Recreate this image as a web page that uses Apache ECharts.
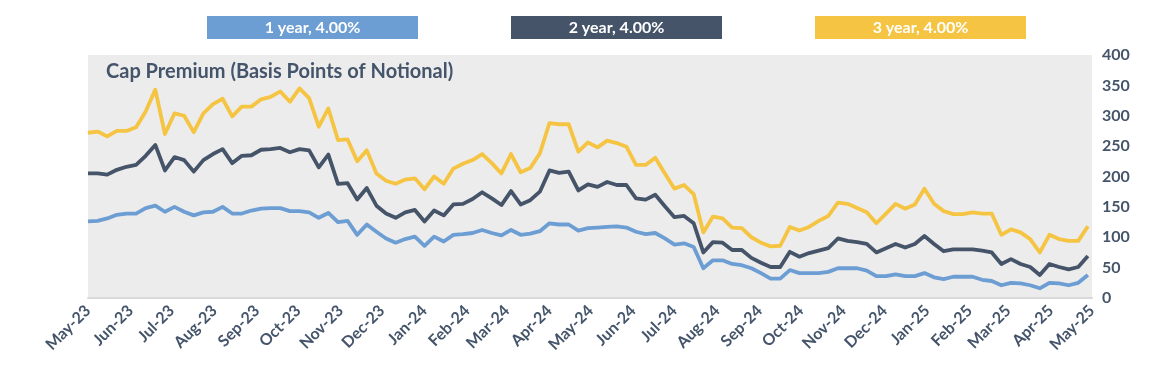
<!DOCTYPE html>
<html>
<head>
<meta charset="utf-8">
<script src="https://cdn.jsdelivr.net/npm/echarts@6/dist/echarts.min.js"></script>
<style>
  html, body { margin: 0; padding: 0; background: #fff; }
  #capChart { width: 1166px; height: 376px; }
</style>
</head>
<body>
<div id="capChart"></div>
<script>
  // weekly observations, first one on this date
  const startDate = '2023-05-01'
  const axisStart = '2023-05-01'
  const axisEnd = '2025-05-01'

  const seriesNames = ['1 year, 4.00%', '2 year, 4.00%', '3 year, 4.00%']
  const seriesColors = ['#6c9dd3', '#455469', '#f5c443']

  const oneYear = [
    126, 127, 131, 137, 139, 139, 148, 152, 142, 150, 142, 136, 141, 142, 150, 139, 139, 144, 147, 148,
    148, 143, 143, 141, 132, 140, 125, 127, 104, 121, 109, 98, 91, 97, 101, 86, 101, 93, 104, 105,
    107, 112, 107, 103, 112, 104, 106, 110, 123, 121, 121, 111, 115, 116, 117, 118, 116, 109, 105, 107,
    98, 88, 90, 84, 49, 62, 62, 56, 54, 49, 41, 32, 32, 46, 41, 41, 41, 43, 49, 49,
    49, 45, 36, 36, 39, 36, 36, 41, 34, 31, 35, 35, 35, 30, 28, 21, 25, 24, 21, 16,
    25, 24, 21, 25, 38
  ]
  const twoYear = [
    205, 205, 203, 211, 216, 219, 234, 252, 210, 232, 227, 208, 227, 237, 245, 222, 234, 235, 244, 245,
    247, 240, 245, 243, 215, 236, 188, 189, 162, 181, 152, 139, 132, 141, 145, 126, 144, 136, 154, 155,
    163, 174, 164, 153, 176, 154, 161, 175, 210, 206, 208, 177, 187, 183, 191, 186, 186, 164, 162, 170,
    151, 133, 135, 123, 75, 92, 91, 79, 79, 66, 58, 51, 51, 76, 68, 74, 78, 82, 98, 94,
    92, 89, 75, 82, 89, 83, 89, 102, 89, 77, 80, 80, 80, 78, 75, 56, 64, 56, 51, 38,
    56, 51, 47, 51, 69
  ]
  const threeYear = [
    272, 274, 266, 275, 275, 281, 307, 343, 270, 304, 300, 273, 304, 319, 328, 299, 315, 315, 327, 331,
    340, 323, 345, 329, 282, 312, 260, 261, 225, 243, 205, 193, 188, 195, 197, 179, 200, 188, 213, 221,
    227, 237, 222, 205, 237, 207, 214, 238, 288, 286, 286, 241, 256, 248, 259, 255, 249, 219, 219, 231,
    205, 180, 186, 171, 108, 134, 131, 116, 115, 100, 91, 85, 86, 117, 111, 117, 127, 135, 157, 155,
    148, 141, 123, 139, 155, 147, 154, 180, 155, 143, 138, 138, 141, 139, 139, 104, 113, 108, 97, 75,
    104, 97, 94, 94, 118
  ]

  const textColor = '#44546a'
  const DAY = 24 * 3600 * 1000

  function weekDates(n) {
    const t0 = new Date(startDate + 'T00:00:00Z').getTime()
    const out = []
    for (let i = 0; i < n; i++) out.push(t0 + i * 7 * DAY)
    return out
  }

  const dates = weekDates(oneYear.length)
  const pairs = vals => vals.map((v, i) => [dates[i], v])

  const chart = echarts.init(document.getElementById('capChart'), null, {renderer: 'canvas'})

  // legend boxes: coloured block with the name centred in white
  const rich = {}
  seriesColors.forEach((c, i) => {
    rich['s' + i] = {
      backgroundColor: c,
      color: '#fff',
      width: 211,
      height: 23,
      lineHeight: 23,
      align: 'center',
      fontFamily: 'Lato',
      fontWeight: 'bold',
      fontSize: 16
    }
  })

  chart.setOption({
    animation: false,
    backgroundColor: '#fff',
    title: {
      text: 'Cap Premium (Basis Points of Notional)',
      left: 106,
      top: 62,
      padding: 0,
      textStyle: {
        color: textColor,
        fontFamily: 'Lato',
        fontWeight: 'bold',
        fontSize: 20
      }
    },
    legend: {
      data: seriesNames,
      left: 202,
      top: 16,
      padding: 0,
      itemGap: 88,
      itemWidth: 0,
      itemHeight: 23,
      icon: 'none',
      selectedMode: false,
      formatter: name => '{s' + seriesNames.indexOf(name) + '|' + name + '}',
      textStyle: {rich: rich}
    },
    grid: {
      left: 88,
      right: 74,
      top: 55,
      bottom: 78,
      show: true,
      backgroundColor: '#ececec',
      borderWidth: 0
    },
    xAxis: {
      type: 'time',
      min: axisStart,
      max: axisEnd,
      splitNumber: 24,
      minInterval: 28 * DAY,
      maxInterval: 31 * DAY,
      axisLine: {lineStyle: {color: '#d9d9d9', width: 2}},
      axisTick: {show: false},
      splitLine: {show: false},
      axisLabel: {
        rotate: 45,
        margin: 10,
        formatter: '{MMM}-{yy}',
        color: textColor,
        fontFamily: 'Lato',
        fontWeight: 'bold',
        fontSize: 16,
        hideOverlap: false
      }
    },
    yAxis: {
      type: 'value',
      position: 'right',
      min: 0,
      max: 400,
      interval: 50,
      axisLine: {show: false},
      axisTick: {show: false},
      splitLine: {show: false},
      axisLabel: {
        margin: 10,
        color: textColor,
        fontFamily: 'Lato',
        fontWeight: 'bold',
        fontSize: 16
      }
    },
    series: [oneYear, twoYear, threeYear].map((vals, i) => ({
      name: seriesNames[i],
      type: 'line',
      data: pairs(vals),
      showSymbol: false,
      color: seriesColors[i],
      lineStyle: {width: 3.8, color: seriesColors[i], join: 'round'},
      emphasis: {disabled: true}
    }))
  })
</script>
</body>
</html>
